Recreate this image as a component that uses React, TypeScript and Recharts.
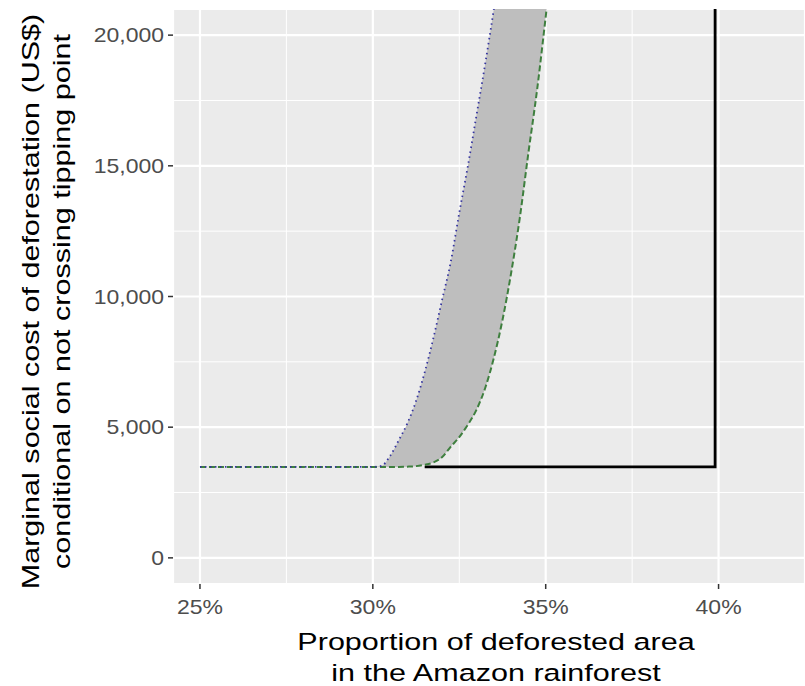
import React from "react";
import { ComposedChart, Area, Line, XAxis, YAxis, CartesianGrid } from "recharts";

// Proportion of deforested area (%)
const pct = [25, 30, 30.25, 30.5, 30.75, 31, 31.25, 31.5, 31.75, 32, 32.25, 32.5, 32.75, 33, 33.25, 33.5, 33.75, 34, 34.25, 34.5, 34.75, 35, 35.25];
// Upper bound (dotted)
const upper = [3480, 3480, 3520, 3900, 4500, 5150, 6000, 7100, 8400, 9850, 11300, 13200, 15000, 16950, 18900, 21000, 23300, 25800, 28500, 31400, 34500, 37800, 41300];
// Lower bound (dashed)
const lower = [3480, 3480, 3480, 3480, 3480, 3490, 3510, 3560, 3650, 3850, 4250, 4620, 5100, 5670, 6500, 7650, 9100, 10900, 13000, 15500, 17900, 20700, 23600];

// Tipping-point step line (solid black)
const stepX = [31.5, 39.9, 39.9];
const stepY = [3480, 3480, 30000];

const xTicks = [25, 30, 35, 40];
const yTicks = [0, 5000, 10000, 15000, 20000];
const xMinor = [27.5, 32.5, 37.5, 42.5];
const yMinor = [2500, 7500, 12500, 17500];

const xDomain = [24.22, 42.5];
const yDomain = [-1000, 21000];

const data = pct.map((x, i) => ({ x, upper: upper[i], lower: lower[i], range: [lower[i], upper[i]] }));
const stepData = stepX.map((x, i) => ({ x, y: stepY[i] }));

const FONT = "'Liberation Sans', Arial, sans-serif";
const TICK_FS = 20;
const TICK_SX = 1.15;
const TITLE_FS = 23.5;
const TITLE_SX = 1.3;

const YTick = (props: any) => {
  const { x, y, payload } = props;
  return (
    <g transform={`translate(${x},${y})`}>
      <text x={0} y={0} dy={7} textAnchor="end" fill="#4D4D4D" fontSize={TICK_FS} fontFamily={FONT} transform={`scale(${TICK_SX},1)`}>
        {Number(payload.value).toLocaleString("en-US")}
      </text>
    </g>
  );
};

const XTick = (props: any) => {
  const { x, y, payload } = props;
  return (
    <g transform={`translate(${x},${y})`}>
      <text x={0} y={0} dy={21} textAnchor="middle" fill="#4D4D4D" fontSize={TICK_FS} fontFamily={FONT} transform={`scale(${TICK_SX},1)`}>
        {`${payload.value}%`}
      </text>
    </g>
  );
};

const XTitle = (props: any) => {
  const vb = props.viewBox || {};
  const cx = vb.x + vb.width / 2 + 7;
  return (
    <g>
      <text transform={`translate(${cx},${vb.y + 66}) scale(${TITLE_SX},1)`} textAnchor="middle" fill="#000" fontSize={TITLE_FS} fontFamily={FONT}>
        Proportion of deforested area
      </text>
      <text transform={`translate(${cx},${vb.y + 97}) scale(${TITLE_SX},1)`} textAnchor="middle" fill="#000" fontSize={TITLE_FS} fontFamily={FONT}>
        in the Amazon rainforest
      </text>
    </g>
  );
};

const YTitle = (props: any) => {
  const vb = props.viewBox || {};
  const cy = vb.y + vb.height / 2 + 5;
  return (
    <g>
      <text transform={`translate(39,${cy}) rotate(-90) scale(${TITLE_SX},1)`} textAnchor="middle" fill="#000" fontSize={TITLE_FS} fontFamily={FONT}>
        Marginal social cost of deforestation (US$)
      </text>
      <text transform={`translate(70,${cy}) rotate(-90) scale(${TITLE_SX},1)`} textAnchor="middle" fill="#000" fontSize={TITLE_FS} fontFamily={FONT}>
        conditional on not crossing tipping point
      </text>
    </g>
  );
};

export default function App() {
  return (
    <div style={{ position: "absolute", left: 0, top: 0, width: 805, height: 686, background: "#fff" }}>
      <ComposedChart width={805} height={686} data={data} margin={{ top: 9, right: 0, bottom: 0, left: 0 }}>
        <CartesianGrid
          verticalValues={xMinor}
          horizontalValues={yMinor}
          stroke="#FFFFFF"
          strokeWidth={1}
          strokeDasharray="0"
          fill="#EBEBEB"
          fillOpacity={1}
        />
        <CartesianGrid stroke="#FFFFFF" strokeWidth={2.2} strokeDasharray="0" />
        <XAxis
          dataKey="x"
          type="number"
          domain={xDomain}
          ticks={xTicks}
          allowDataOverflow
          height={102}
          axisLine={false}
          tickLine={{ stroke: "#333333", strokeWidth: 1.5 }}
          tickSize={5}
          tickMargin={4}
          tick={<XTick />}
          label={<XTitle />}
        />
        <YAxis
          type="number"
          domain={yDomain}
          ticks={yTicks}
          allowDataOverflow
          width={173}
          axisLine={false}
          tickLine={{ stroke: "#333333", strokeWidth: 1.5 }}
          tickSize={5}
          tickMargin={4}
          tick={<YTick />}
          label={<YTitle />}
        />
        <Area
          dataKey="range"
          type="monotone"
          stroke="none"
          fill="#BEBEBE"
          fillOpacity={1}
          isAnimationActive={false}
          dot={false}
          activeDot={false}
        />
        <Line
          data={stepData}
          dataKey="y"
          type="linear"
          stroke="#000000"
          strokeWidth={2.8}
          dot={false}
          activeDot={false}
          isAnimationActive={false}
        />
        <Line
          dataKey="lower"
          type="monotone"
          stroke="#3E7F3E"
          strokeWidth={2}
          strokeDasharray="6 3"
          dot={false}
          activeDot={false}
          isAnimationActive={false}
        />
        <Line
          dataKey="upper"
          type="monotone"
          stroke="#3535A0"
          strokeWidth={1.8}
          strokeDasharray="1.5 3.5"
          dot={false}
          activeDot={false}
          isAnimationActive={false}
        />
      </ComposedChart>
    </div>
  );
}
